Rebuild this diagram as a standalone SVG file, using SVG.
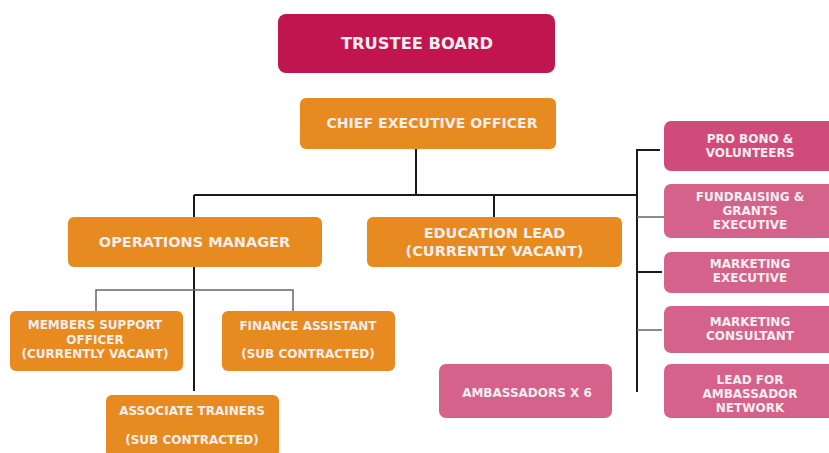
<svg xmlns="http://www.w3.org/2000/svg" width="829" height="453" viewBox="0 0 829 453">
<style>
.t{font-family:"DejaVu Sans","Liberation Sans",sans-serif;font-weight:bold;fill:#F4EEEE;text-anchor:middle}
.big{font-size:16.300px}
.mid{font-size:14.500px}
.ceo{font-size:14.100px}
.sm{font-size:12px}
.or{fill:#E78A20}
.pk{fill:#D5628A}
.ln{stroke:#1a1a1a;stroke-width:2;fill:none}
.lg{stroke:#666;stroke-width:1.5;fill:none}
</style>
<rect width="829" height="453" fill="#fff"/>
<g id="connectors">
<path class="ln" d="M416 149V195M194 195H638M194 195V217M494 195V217"/>
<path class="ln" d="M637 149V392M637 150H660M637 272H662"/>
<path class="lg" d="M637 217H664M637 330H662"/>
<path class="ln" d="M194 267V391"/>
<path class="lg" d="M96 311V290H293V311"/>
</g>
<g id="trustee-board">
<rect x="278" y="14" width="277" height="59" rx="8" fill="#C1154F"/>
<text class="t big" x="417" y="48.500">TRUSTEE BOARD</text>
</g>
<g id="ceo">
<rect class="or" x="300" y="98" width="256" height="51" rx="6"/>
<text class="t ceo" x="432" y="128">CHIEF EXECUTIVE OFFICER</text>
</g>
<g id="operations-manager">
<rect class="or" x="68" y="217" width="254" height="50" rx="6"/>
<text class="t mid" x="194.500" y="247">OPERATIONS MANAGER</text>
</g>
<g id="education-lead">
<rect class="or" x="367" y="217" width="255" height="50" rx="6"/>
<text class="t mid" x="494.500" y="238">EDUCATION LEAD</text>
<text class="t mid" x="494.500" y="256">(CURRENTLY VACANT)</text>
</g>
<g id="members-support">
<rect class="or" x="10" y="311" width="173" height="60" rx="6"/>
<text class="t sm" x="95" y="329">MEMBERS SUPPORT</text>
<text class="t sm" x="95" y="344">OFFICER</text>
<text class="t sm" x="95" y="358">(CURRENTLY VACANT)</text>
</g>
<g id="finance-assistant">
<rect class="or" x="222" y="311" width="173" height="60" rx="6"/>
<text class="t sm" x="308" y="330">FINANCE ASSISTANT</text>
<text class="t sm" x="308" y="358">(SUB CONTRACTED)</text>
</g>
<g id="associate-trainers">
<rect class="or" x="106" y="395" width="173" height="62" rx="6"/>
<text class="t sm" x="192" y="415">ASSOCIATE TRAINERS</text>
<text class="t sm" x="192" y="444">(SUB CONTRACTED)</text>
</g>
<g id="ambassadors">
<rect class="pk" x="439" y="364" width="173" height="54" rx="7"/>
<text class="t sm" x="527" y="397">AMBASSADORS X 6</text>
</g>
<g id="pro-bono">
<rect x="664" y="121" width="175" height="50" rx="7" fill="#D04B7A"/>
<text class="t sm" x="750" y="143">PRO BONO &amp;</text>
<text class="t sm" x="750" y="157">VOLUNTEERS</text>
</g>
<g id="fundraising">
<rect class="pk" x="664" y="184" width="175" height="54" rx="7"/>
<text class="t sm" x="750" y="201">FUNDRAISING &amp;</text>
<text class="t sm" x="750" y="215">GRANTS</text>
<text class="t sm" x="750" y="229">EXECUTIVE</text>
</g>
<g id="marketing-executive">
<rect class="pk" x="664" y="252" width="175" height="41" rx="7"/>
<text class="t sm" x="750" y="268">MARKETING</text>
<text class="t sm" x="750" y="282">EXECUTIVE</text>
</g>
<g id="marketing-consultant">
<rect class="pk" x="664" y="306" width="175" height="47" rx="7"/>
<text class="t sm" x="750" y="326">MARKETING</text>
<text class="t sm" x="750" y="340">CONSULTANT</text>
</g>
<g id="lead-ambassador-network">
<rect class="pk" x="664" y="364" width="175" height="54" rx="7"/>
<text class="t sm" x="750" y="384">LEAD FOR</text>
<text class="t sm" x="750" y="398">AMBASSADOR</text>
<text class="t sm" x="750" y="412">NETWORK</text>
</g>
</svg>
